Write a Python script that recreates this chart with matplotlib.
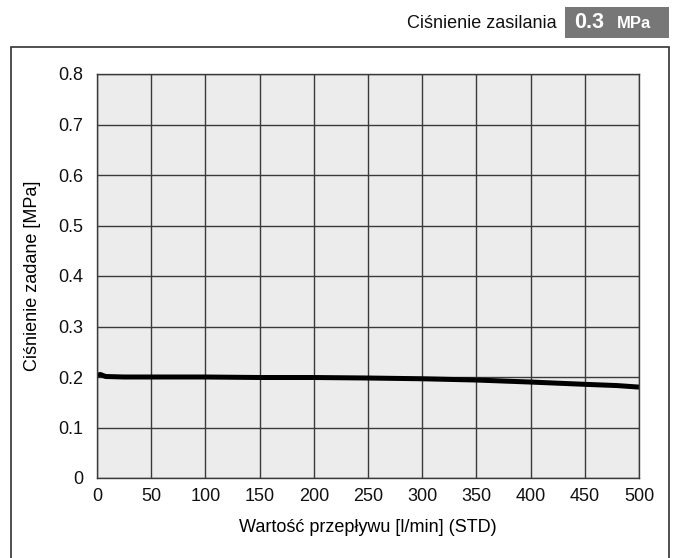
import matplotlib.pyplot as plt
from matplotlib.patches import Rectangle
import numpy as np

# flow [l/min] vs set pressure [MPa]
flow = [0, 3, 8, 25, 50, 100, 150, 200, 250, 300, 350, 400, 450, 480, 500]
pressure = [0.203, 0.205, 0.201, 0.200, 0.200, 0.200, 0.199, 0.199, 0.198,
            0.1965, 0.194, 0.190, 0.1855, 0.183, 0.180]

xticks = np.arange(0, 501, 50)
yticks = [0, 0.1, 0.2, 0.3, 0.4, 0.5, 0.6, 0.7, 0.8]
ytick_labels = ['0', '0.1', '0.2', '0.3', '0.4', '0.5', '0.6', '0.7', '0.8']

plt.rcParams['font.family'] = ['Liberation Sans', 'DejaVu Sans']

fig = plt.figure(figsize=(6.74, 5.58), dpi=100)

# outer frame
fig.patches.append(Rectangle((11 / 674, -0.01), 658 / 674, (558 - 47) / 558 + 0.01,
                             transform=fig.transFigure, fill=False,
                             edgecolor='#333333', linewidth=1.2))

# header: supply pressure
fig.text(557 / 674, 1 - 24 / 558, 'Ciśnienie zasilania', ha='right', va='center',
         fontsize=13, color='#111111')
fig.patches.append(Rectangle((565 / 674, 1 - 38 / 558), 104 / 674, 31 / 558,
                             transform=fig.transFigure, facecolor='#777777',
                             edgecolor='none'))
fig.text(574 / 674, 1 - 23 / 558, '0.3', ha='left', va='center', fontsize=15.5,
         fontweight='bold', color='white')
fig.text(617 / 674, 1 - 24 / 558, 'MPa', ha='left', va='center', fontsize=12,
         fontweight='bold', color='white')

ax = fig.add_axes([97 / 674, 80 / 558, 542 / 674, 404 / 558])
ax.set_facecolor('#ececec')
ax.plot(flow, pressure, color='black', linewidth=3.6, solid_capstyle='butt')

ax.set_xlim(0, 500)
ax.set_ylim(0, 0.8)
ax.set_xticks(xticks)
ax.set_yticks(yticks)
ax.set_yticklabels(ytick_labels)
ax.tick_params(length=0, labelsize=13, colors='#111111')
ax.tick_params(axis='x', pad=7)
ax.tick_params(axis='y', pad=10)
ax.grid(True, color='#3a3a3a', linewidth=1)
ax.set_axisbelow(True)
for s in ax.spines.values():
    s.set_color('#3a3a3a')
    s.set_linewidth(1)

ax.set_xlabel('Wartość przepływu [l/min] (STD)', fontsize=13, labelpad=10)
ax.set_ylabel('Ciśnienie zadane [MPa]', fontsize=13, labelpad=12)

fig.savefig('out.png', dpi=100)
